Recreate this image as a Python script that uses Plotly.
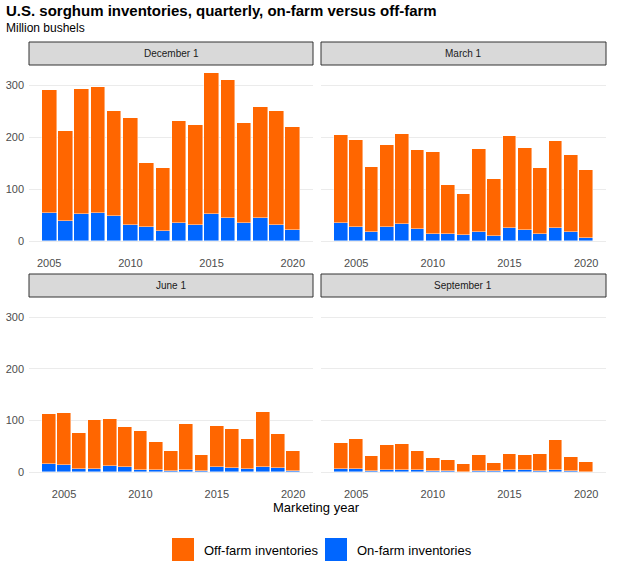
import plotly.graph_objects as go

# ---------------- data (million bushels) ----------------
years_dec = list(range(2005, 2021))
years_other = list(range(2004, 2021))

dec_on = [55, 39, 52, 54, 49, 31, 28, 19, 34, 31, 53, 44, 35, 45, 31, 22]
dec_off = [236, 173, 240, 243, 202, 207, 123, 121, 198, 192, 270, 266, 193, 214, 220, 198]

mar_on = [35, 27, 18, 27, 33, 24, 14, 13, 11, 17, 10, 26, 22, 14, 26, 18, 6]
mar_off = [169, 167, 124, 159, 173, 151, 157, 95, 80, 160, 110, 176, 158, 127, 167, 147, 131]

jun_on = [16, 13, 6, 7, 12, 10, 4, 4, 3, 5, 3, 10, 9, 6, 10, 8, 2]
jun_off = [97, 102, 69, 94, 90, 78, 76, 54, 38, 88, 31, 80, 75, 59, 107, 65, 39]

sep_on = [6, 6, 2, 4, 4, 5, 2, 2, 1, 2, 2, 4, 4, 3, 4, 3, 1]
sep_off = [51, 59, 30, 49, 51, 36, 25, 21, 14, 32, 16, 32, 29, 32, 59, 27, 19]

panel_titles = ["December 1", "March 1", "June 1", "September 1"]
series_names = ["Off-farm inventories", "On-farm inventories"]
y_ticks = [0, 100, 200, 300]
x_ticks = [2005, 2010, 2015, 2020]

# ---------------- styling ----------------
W, H = 629, 568
ORANGE = "#FF6600"
BLUE = "#0066FF"
FONT = "Liberation Sans, Arial, sans-serif"

def px_x(p):
    return p / W

def px_y(p):
    return 1 - p / H

col_px = [(29, 313), (321, 606)]
row_px = [(65, 249.5), (297, 480.5)]
strip_px = [(42, 65), (274, 297)]

panels = [
    (years_dec, dec_on, dec_off),
    (years_other, mar_on, mar_off),
    (years_other, jun_on, jun_off),
    (years_other, sep_on, sep_off),
]

fig = go.Figure()
layout_axes = {}
shapes = []
annotations = []

yr = [-16.15, 339.15]

for i, (yrs, on, off) in enumerate(panels):
    r, c = divmod(i, 2)
    n = i + 1
    xa = "x" if n == 1 else f"x{n}"
    ya = "y" if n == 1 else f"y{n}"
    fig.add_trace(go.Bar(x=yrs, y=on, name=series_names[1], marker=dict(color=BLUE, line=dict(color="rgba(255,255,255,0.55)", width=0.8)),
                         width=0.9, xaxis=xa, yaxis=ya, showlegend=False))
    fig.add_trace(go.Bar(x=yrs, y=off, name=series_names[0], marker=dict(color=ORANGE, line=dict(color="rgba(255,255,255,0.55)", width=0.8)),
                         width=0.9, xaxis=xa, yaxis=ya, showlegend=False))
    lo, hi = min(yrs) - 0.45, max(yrs) + 0.45
    ex = (hi - lo) * 0.05
    x0, x1 = col_px[c]
    yt, yb = row_px[r]
    layout_axes["xaxis" if n == 1 else f"xaxis{n}"] = dict(
        domain=[px_x(x0), px_x(x1)], anchor=ya, range=[lo - ex, hi + ex],
        tickvals=x_ticks, showgrid=False, zeroline=False, showline=False, ticks="",
        ticklabelstandoff=5, tickfont=dict(size=11, color="#4d4d4d", family=FONT),
    )
    layout_axes["yaxis" if n == 1 else f"yaxis{n}"] = dict(
        domain=[px_y(yb), px_y(yt)], anchor=xa, range=yr,
        tickvals=y_ticks, showgrid=True, gridcolor="#EBEBEB", gridwidth=1,
        zeroline=False, showline=False, ticks="", showticklabels=(c == 0),
        ticklabelstandoff=4, tickfont=dict(size=11, color="#4d4d4d", family=FONT),
    )
    sy0, sy1 = strip_px[r]
    shapes.append(dict(type="rect", xref="paper", yref="paper",
                       x0=px_x(x0), x1=px_x(x1), y0=px_y(sy1), y1=px_y(sy0),
                       fillcolor="#D9D9D9", line=dict(color="#333333", width=1)))
    annotations.append(dict(text=panel_titles[i], xref="paper", yref="paper",
                            x=px_x((x0 + x1) / 2), y=px_y((sy0 + sy1) / 2),
                            showarrow=False, xanchor="center", yanchor="middle",
                            font=dict(size=10, color="#1a1a1a", family=FONT)))

# titles
annotations.append(dict(text="<b>U.S. sorghum inventories, quarterly, on-farm versus off-farm</b>",
                        xref="paper", yref="paper", x=px_x(4), y=px_y(0), xanchor="left", yanchor="top",
                        showarrow=False, font=dict(size=15, color="black", family=FONT)))
annotations.append(dict(text="Million bushels", xref="paper", yref="paper", x=px_x(4), y=px_y(28),
                        xanchor="left", yanchor="middle", showarrow=False,
                        font=dict(size=12, color="black", family=FONT)))
annotations.append(dict(text="Marketing year", xref="paper", yref="paper", x=px_x(317), y=px_y(507),
                        xanchor="center", yanchor="middle", showarrow=False,
                        font=dict(size=13, color="black", family=FONT)))

# legend (drawn key)
legend_items = [(series_names[0], ORANGE, 172), (series_names[1], BLUE, 325)]
for name, col, lx in legend_items:
    shapes.append(dict(type="rect", xref="paper", yref="paper",
                       x0=px_x(lx), x1=px_x(lx + 22), y0=px_y(561), y1=px_y(538),
                       fillcolor=col, line=dict(width=0)))
    annotations.append(dict(text=name, xref="paper", yref="paper", x=px_x(lx + 30), y=px_y(550),
                            xanchor="left", yanchor="middle", showarrow=False,
                            font=dict(size=13, color="black", family=FONT)))

fig.update_layout(
    width=W, height=H, margin=dict(l=0, r=0, t=0, b=0),
    barmode="stack", bargap=0, paper_bgcolor="white", plot_bgcolor="white",
    shapes=shapes, annotations=annotations, showlegend=False,
    font=dict(family=FONT),
    **layout_axes,
)

fig.write_html("out.html", config={"displayModeBar": False},
               post_script="document.body.style.margin='0';document.body.style.padding='0';document.body.style.overflow='hidden';")
